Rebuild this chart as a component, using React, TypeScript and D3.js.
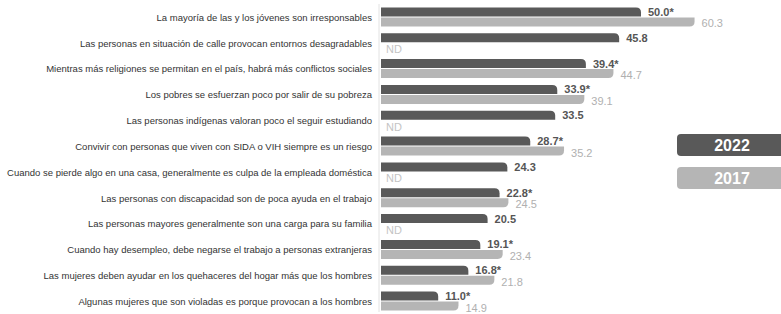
import React, { useEffect, useRef } from 'react';
import * as d3 from 'd3';

const categories: string[] = [
  'La mayoría de las y los jóvenes son irresponsables',
  'Las personas en situación de calle provocan entornos desagradables',
  'Mientras más religiones se permitan en el país, habrá más conflictos sociales',
  'Los pobres se esfuerzan poco por salir de su pobreza',
  'Las personas indígenas valoran poco el seguir estudiando',
  'Convivir con personas que viven con SIDA o VIH siempre es un riesgo',
  'Cuando se pierde algo en una casa, generalmente es culpa de la empleada doméstica',
  'Las personas con discapacidad son de poca ayuda en el trabajo',
  'Las personas mayores generalmente son una carga para su familia',
  'Cuando hay desempleo, debe negarse el trabajo a personas extranjeras',
  'Las mujeres deben ayudar en los quehaceres del hogar más que los hombres',
  'Algunas mujeres que son violadas es porque provocan a los hombres',
];

const values2022: number[] = [50.0, 45.8, 39.4, 33.9, 33.5, 28.7, 24.3, 22.8, 20.5, 19.1, 16.8, 11.0];
const significant: boolean[] = [true, false, true, true, false, true, false, true, false, true, true, true];
const values2017: (number | null)[] = [60.3, null, 44.7, 39.1, null, 35.2, null, 24.5, null, 23.4, 21.8, 14.9];

const years: string[] = ['2022', '2017'];

const WIDTH = 781;
const HEIGHT = 314;
const DARK = '#595959';
const LIGHT = '#b5b5b5';
const FONT = '"Liberation Sans", Arial, sans-serif';

// bar with a single rounded corner on the right side
function barPath(x0: number, y0: number, w: number, h: number, r: number, top: boolean) {
  const x1 = x0 + w;
  const y1 = y0 + h;
  const rr = Math.min(r, w, h);
  if (top) {
    return `M${x0},${y0}H${x1 - rr}Q${x1},${y0} ${x1},${y0 + rr}V${y1}H${x0}Z`;
  }
  return `M${x0},${y0}H${x1}V${y1 - rr}Q${x1},${y1} ${x1 - rr},${y1}H${x0}Z`;
}

export default function App() {
  const svgRef = useRef<SVGSVGElement>(null);

  useEffect(() => {
    if (!svgRef.current) return;
    const svg = d3.select(svgRef.current);
    svg.selectAll('*').remove();

    const x0 = 381;
    const xScale = d3.scaleLinear().domain([0, 60]).range([x0, x0 + 312]);
    const yScale = d3.scaleBand<string>().domain(categories).range([4, HEIGHT]);
    const barH = 9;
    const gap = 1;
    const offset = (yScale.bandwidth() - (barH * 2 + gap)) / 2;

    // faint axis line
    svg.append('line')
      .attr('x1', x0 - 2)
      .attr('x2', x0 - 2)
      .attr('y1', 4)
      .attr('y2', HEIGHT - 2)
      .attr('stroke', '#e2e2e2')
      .attr('stroke-width', 1);

    const rows = svg.append('g')
      .selectAll('g')
      .data(categories)
      .join('g')
      .attr('transform', d => `translate(0,${(yScale(d) ?? 0) + offset})`);

    rows.append('text')
      .attr('x', 372)
      .attr('y', barH + gap / 2 + 0.5)
      .attr('dy', '0.35em')
      .attr('text-anchor', 'end')
      .style('font-family', FONT)
      .style('font-size', '9.5px')
      .style('fill', '#333')
      .text(d => d);

    rows.append('path')
      .attr('fill', DARK)
      .attr('d', (_, i) => barPath(x0, 0, xScale(values2022[i]) - x0, barH, 5, true));

    rows.append('text')
      .attr('x', (_, i) => xScale(values2022[i]) + 7)
      .attr('y', barH - 0.5)
      .style('font-family', FONT)
      .style('font-size', '11px')
      .style('font-weight', 'bold')
      .style('fill', '#555')
      .text((_, i) => values2022[i].toFixed(1) + (significant[i] ? '*' : ''));

    rows.filter((_, i) => values2017[i] !== null)
      .append('path')
      .attr('fill', LIGHT)
      .attr('d', (_, i, nodes) => {
        const idx = categories.indexOf(d3.select(nodes[i]).datum() as string);
        return barPath(x0, barH + gap, xScale(values2017[idx] as number) - x0, barH, 5, false);
      });

    rows.append('text')
      .attr('x', (_, i) => (values2017[i] === null ? x0 + 5 : xScale(values2017[i] as number) + 7))
      .attr('y', barH * 2 + gap + 1)
      .style('font-family', FONT)
      .style('font-size', '11px')
      .style('fill', (_, i) => (values2017[i] === null ? '#c4c4c4' : '#b0b0b0'))
      .text((_, i) => (values2017[i] === null ? 'ND' : (values2017[i] as number).toFixed(1)));

    // legend
    const legend = svg.append('g')
      .selectAll('g')
      .data(years)
      .join('g')
      .attr('transform', (_, i) => `translate(677,${134 + i * 33})`);

    legend.append('rect')
      .attr('width', 110)
      .attr('height', 22)
      .attr('rx', 4)
      .attr('fill', (_, i) => (i === 0 ? DARK : LIGHT));

    legend.append('text')
      .attr('x', 55)
      .attr('y', 11)
      .attr('dy', '0.36em')
      .attr('text-anchor', 'middle')
      .style('font-family', FONT)
      .style('font-size', '16px')
      .style('font-weight', 'bold')
      .style('fill', '#fff')
      .text(d => d);
  }, []);

  return (
    <svg
      ref={svgRef}
      width={WIDTH}
      height={HEIGHT}
      style={{ position: 'absolute', left: 0, top: 0, background: '#fff' }}
    />
  );
}
